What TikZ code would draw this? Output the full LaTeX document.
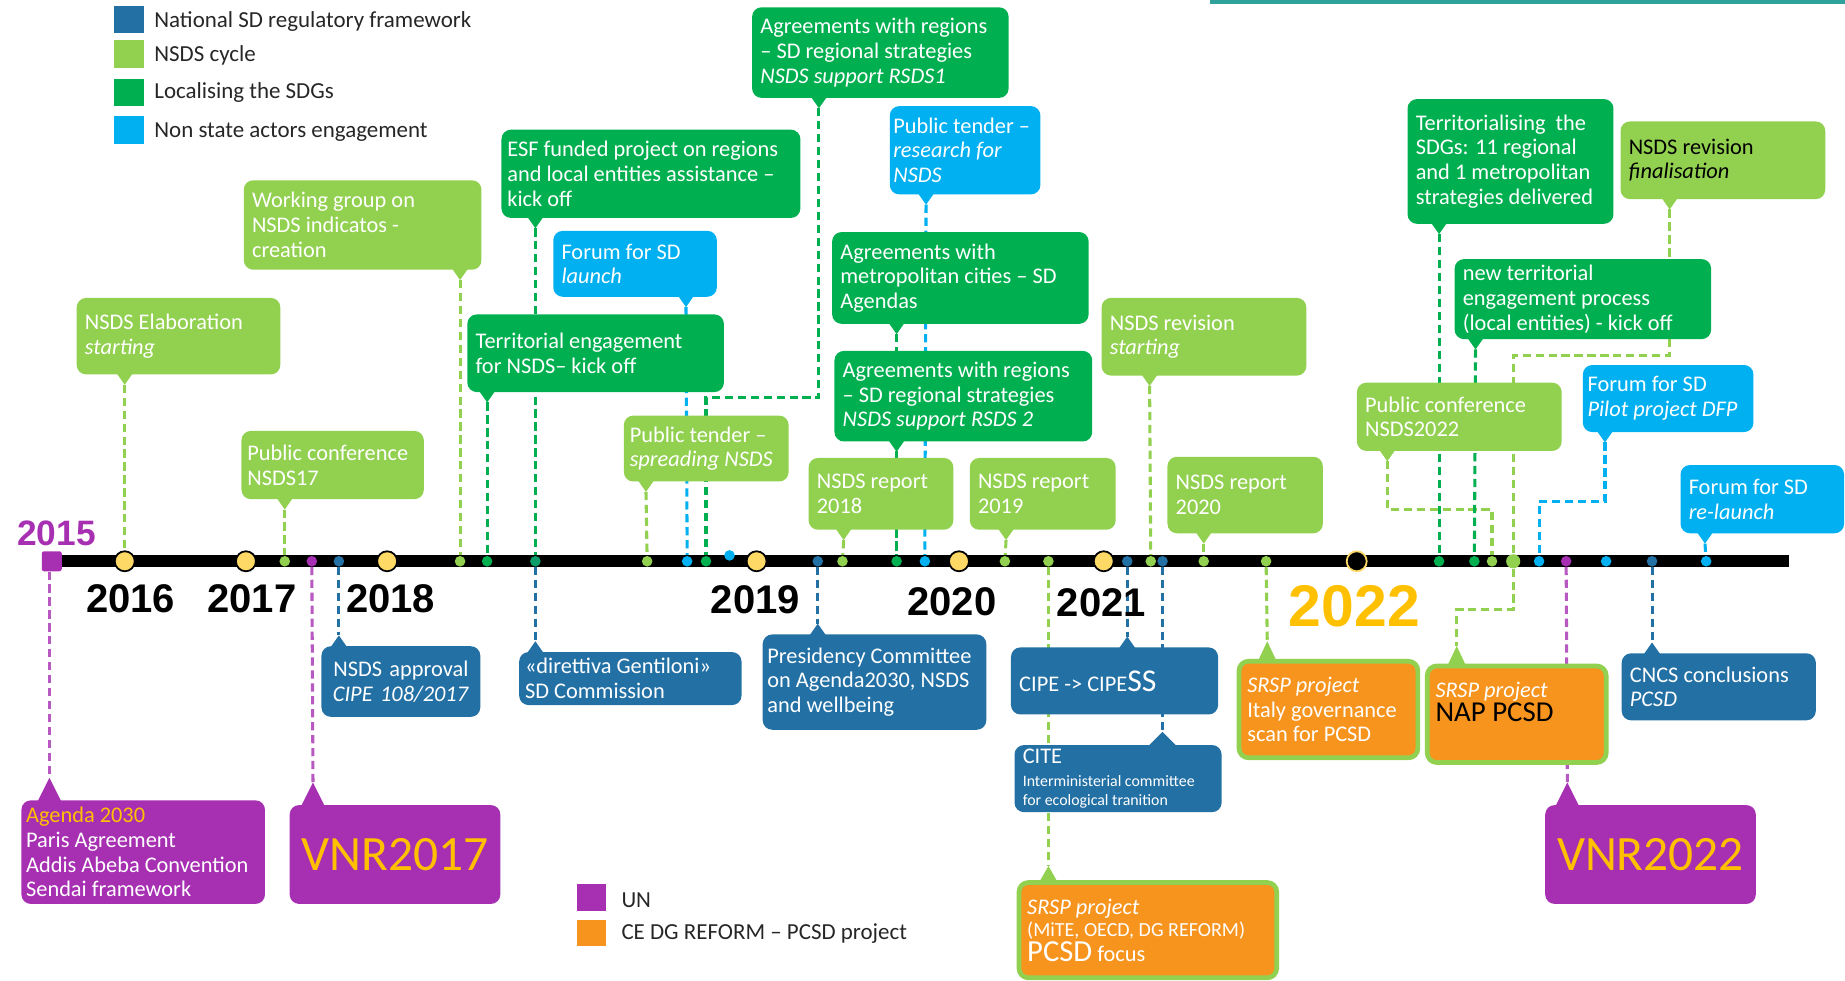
\documentclass[tikz,border=0pt]{standalone}
\usepackage{fontspec}
\setmainfont{Carlito}
\newfontfamily\yearfont{Liberation Sans}
\usetikzlibrary{backgrounds}

\definecolor{regblue}{HTML}{2370A5}
\definecolor{cyclegreen}{HTML}{92D050}
\definecolor{localgreen}{HTML}{00B050}
\definecolor{actorblue}{HTML}{00B0F0}
\definecolor{unpurple}{HTML}{A62FB2}
\definecolor{pcsdorange}{HTML}{F7941D}
\definecolor{gold}{HTML}{FFC000}
\definecolor{yearyellow}{HTML}{FFD966}
\definecolor{topteal}{HTML}{2FA39B}

\newcommand{\evtfont}{\fontsize{19}{21}\selectfont}

\begin{document}
\begin{tikzpicture}[x=1pt, y=-1pt,
    box/.style={rounded corners=8pt, anchor=north west, inner xsep=7pt, inner ysep=1pt, align=flush left, text=white, font=\evtfont},
    srsp/.style={box, fill=pcsdorange, draw=cyclegreen, line width=4pt},
    legend/.style={anchor=west, inner sep=0pt, font=\fontsize{19.5}{21}\selectfont, text=black!85},
    year/.style={inner sep=0pt, font=\yearfont\bfseries\fontsize{34}{34}\selectfont},
    dot/.style={circle, inner sep=0pt, minimum size=9pt},
    yeardot/.style={circle, inner sep=0pt, minimum size=17pt, fill=yearyellow, draw=black, line width=1.5pt},
    tieline/.style={line width=2.6pt, dash pattern=on 7pt off 4pt}
  ]
    \useasboundingbox (0,0) rectangle (1568,833);

    % top rule
    \fill[topteal] (1028,0) rectangle (1568,3);

    % legend
    \fill[regblue] (97,5) rectangle (122,28);
    \node[legend] (leg-reg) at (131,18) {National SD regulatory framework};
    \fill[cyclegreen] (97,34) rectangle (122,58);
    \node[legend] (leg-cycle) at (131,47) {NSDS cycle};
    \fill[localgreen] (97,67) rectangle (122,90);
    \node[legend] (leg-local) at (131,79) {Localising the SDGs};
    \fill[actorblue] (97,99) rectangle (122,122);
    \node[legend] (leg-actor) at (131,112) {Non state actors engagement};
    \fill[unpurple] (490,751) rectangle (515,774);
    \node[legend] (leg-un) at (528,765) {UN};
    \fill[pcsdorange] (490,782) rectangle (515,804);
    \node[legend] (leg-pcsd) at (528,793) {CE DG REFORM -- PCSD project};

    % timeline
    \draw[line width=10pt] (50,477) -- (1520,477);
    \node[fill=unpurple, minimum size=17pt, inner sep=0pt, rounded corners=2pt] (start) at (44,477) {};
    \node[yeardot] (y2016) at (106,477) {};
    \node[yeardot] (y2017) at (209,477) {};
    \node[yeardot] (y2018) at (329,477) {};
    \node[yeardot] (y2019) at (643,477) {};
    \node[yeardot] (y2020) at (815,477) {};
    \node[yeardot] (y2021) at (938,477) {};
    \node[yeardot, fill=black, draw=yearyellow] (y2022) at (1153,477) {};

    % year labels
    \node[year, text=unpurple, font=\yearfont\bfseries\fontsize{30}{30}\selectfont] (l2015) at (48,453) {2015};
    \node[year] (l2016) at (111,509) {2016};
    \node[year] (l2017) at (214,509) {2017};
    \node[year] (l2018) at (332,509) {2018};
    \node[year] (l2019) at (642,510) {2019};
    \node[year] (l2020) at (809,511) {2020};
    \node[year] (l2021) at (936,512) {2021};
    \node[year, text=gold, font=\yearfont\bfseries\fontsize{50}{50}\selectfont] (l2022) at (1151,515) {2022};

    % events on the line
    \node[dot, fill=cyclegreen] (conf17-dot) at (242,477) {};
    \node[dot, fill=unpurple] (vnr17-dot) at (265,477) {};
    \node[dot, fill=regblue] (approval-dot) at (288,477) {};
    \node[dot, fill=cyclegreen] (wgroup-dot) at (391,477) {};
    \node[dot, fill=localgreen] (terreng-dot) at (414,477) {};
    \node[dot, fill=localgreen!70!regblue] (esf-dot) at (455,477) {};
    \node[dot, fill=cyclegreen] (tenderspr-dot) at (550,477) {};
    \node[dot, fill=actorblue] (forumlaunch-dot) at (584,477) {};
    \node[dot, fill=localgreen] (rsdsone-dot) at (600,477) {};
    \node[dot, fill=actorblue] (nsa-dot) at (620,472) {};
    \node[dot, fill=regblue] (presidency-dot) at (695,477) {};
    \node[dot, fill=cyclegreen] (rep18-dot) at (716,477) {};
    \node[dot, fill=localgreen] (agree-dot) at (762,477) {};
    \node[dot, fill=actorblue] (tenderres-dot) at (786,477) {};
    \node[dot, fill=cyclegreen] (rep19-dot) at (854,477) {};
    \node[dot, fill=cyclegreen] (focus-dot) at (891,477) {};
    \node[dot, fill=regblue] (cipess-dot) at (958,477) {};
    \node[dot, fill=cyclegreen] (revstart-dot) at (978,477) {};
    \node[dot, fill=regblue] (cite-dot) at (988,477) {};
    \node[dot, fill=cyclegreen] (rep20-dot) at (1023,477) {};
    \node[dot, fill=cyclegreen] (scan-dot) at (1076,477) {};
    \node[dot, fill=localgreen] (sdgs-dot) at (1223,477) {};
    \node[dot, fill=localgreen] (newterr-dot) at (1253,477) {};
    \node[dot, fill=cyclegreen] (conf22-dot) at (1268,477) {};
    \node[dot, fill=cyclegreen, minimum size=12pt] (revfinal-dot) at (1286,477) {};
    \node[dot, fill=actorblue] (pilot-dot) at (1308,477) {};
    \node[dot, fill=unpurple] (vnr22-dot) at (1331,477) {};
    \node[dot, fill=actorblue] (nsatwo-dot) at (1365,477) {};
    \node[dot, fill=regblue] (cncs-dot) at (1404,477) {};
    \node[dot, fill=actorblue] (forumre-dot) at (1450,477) {};

    % boxes above the line
    \node[box, fill=cyclegreen, minimum height=65pt, text width=159pt] (elab) at (65,253) {NSDS Elaboration\\\textit{starting}};
    \node[box, fill=cyclegreen, minimum height=76pt, text width=188pt] (wgroup) at (207,153) {Working group on\\NSDS indicatos -\\creation};
    \node[box, fill=cyclegreen, minimum height=58pt, inner xsep=5pt, text width=145pt] (conf17) at (205,366) {Public conference\\NSDS17};
    \node[box, fill=localgreen, minimum height=75pt, inner xsep=5pt, text width=244pt] (esf) at (426,110) {ESF funded project on regions\\and local entities assistance --\\kick off};
    \node[box, fill=actorblue, minimum height=56pt, text width=125pt] (forumlaunch) at (470,196) {Forum for SD\\\textit{launch}};
    \node[box, fill=localgreen, minimum height=66pt, text width=204pt] (terreng) at (397,267) {Territorial engagement\\for NSDS-- kick off};
    \node[box, fill=localgreen, minimum height=77pt, text width=204pt] (rsdsone) at (639,6) {Agreements with regions\\-- SD regional strategies\\\textit{NSDS support RSDS1}};
    \node[box, fill=actorblue, minimum height=75pt, inner xsep=3pt, text width=122pt] (tenderres) at (756,90) {Public tender --\\\textit{research for}\\\textit{NSDS}};
    \node[box, fill=localgreen, minimum height=78pt, text width=204pt] (metro) at (707,197) {Agreements with\\metropolitan cities -- SD\\Agendas};
    \node[box, fill=localgreen, minimum height=77pt, text width=205pt] (rsdstwo) at (709,298) {Agreements with regions\\-- SD regional strategies\\\textit{NSDS support RSDS 2}};
    \node[box, fill=cyclegreen, minimum height=56pt, inner xsep=5pt, text width=130pt] (tenderspr) at (530,353) {Public tender --\\\textit{spreading NSDS}};
    \node[box, fill=cyclegreen, minimum height=61pt, text width=109pt] (rep18) at (687,389) {NSDS report\\2018};
    \node[box, fill=cyclegreen, minimum height=61pt, text width=110pt] (rep19) at (824,389) {NSDS report\\2019};
    \node[box, fill=cyclegreen, minimum height=66pt, text width=160pt] (revstart) at (936,253) {NSDS revision\\\textit{starting}};
    \node[box, fill=cyclegreen, minimum height=65pt, text width=118pt] (rep20) at (992,388) {NSDS report\\2020};
    \node[box, fill=localgreen, minimum height=106pt, text width=161pt] (sdgs) at (1196,84) {Territorialising~ the\\SDGs: 11 regional\\and 1 metropolitan\\strategies delivered};
    \node[box, fill=cyclegreen, text=black, minimum height=66pt, text width=160pt] (revfinal) at (1377,103) {NSDS revision\\\textit{finalisation}};
    \node[box, fill=localgreen, minimum height=68pt, text width=204pt] (newterr) at (1236,220) {new territorial\\engagement process\\(local entities) - kick off};
    \node[box, fill=cyclegreen, minimum height=58pt, text width=160pt] (conf22) at (1153,325) {Public conference\\NSDS2022};
    \node[box, fill=actorblue, minimum height=57pt, inner xsep=4pt, text width=137pt] (forumpilot) at (1345,310) {Forum for SD\\\textit{Pilot project DFP}};
    \node[box, fill=actorblue, minimum height=58pt, text width=125pt] (forumre) at (1428,395) {Forum for SD\\\textit{re-launch}};

    % boxes below the line
    \node[box, fill=unpurple, minimum height=88pt, inner xsep=4pt, text width=199pt] (agenda) at (18,680) {{\color{gold}Agenda 2030}\\Paris Agreement\\Addis Abeba Convention\\Sendai framework};
    \node[box, fill=unpurple, text=gold, align=center, minimum height=84pt, text width=165pt, font=\fontsize{42}{44}\selectfont] (vnrseventeen) at (246,684) {VNR2017};
    \node[box, fill=regblue, align=center, minimum height=60pt, text width=121pt] (approval) at (273,549) {NSDS approval\\\textit{CIPE 108/2017}};
    \node[box, fill=regblue, minimum height=45pt, inner xsep=5pt, text width=179pt] (gentiloni) at (441,554) {«direttiva Gentiloni»\\SD Commission};
    \node[box, fill=regblue, minimum height=81pt, inner xsep=4pt, text width=182pt] (presidency) at (648,539) {Presidency Committee\\on Agenda2030, NSDS\\and wellbeing};
    \node[box, fill=regblue, minimum height=57pt, text width=162pt] (cipess) at (859,550) {CIPE -> CIPE{\fontsize{27}{27}\selectfont SS}};
    \node[box, fill=regblue, minimum height=57pt, text width=162pt] (cite) at (862,633) {CITE\\[-2pt]{\fontsize{13.5}{16}\selectfont Interministerial committee}\\[-5pt]{\fontsize{13.5}{16}\selectfont for ecological tranition}};
    \node[srsp, minimum height=81pt, text width=205pt] (srspfocus) at (864,748) {\textit{SRSP project}\\[-2pt]{\fontsize{17}{19}\selectfont (MiTE, OECD, DG REFORM)}\\{\fontsize{26}{26}\selectfont PCSD} focus};
    \node[srsp, minimum height=82pt, text width=138pt] (srspscan) at (1051,560) {\textit{SRSP project}\\Italy governance\\scan for PCSD};
    \node[srsp, minimum height=82pt, text width=138pt] (srspnap) at (1211,564) {\textit{SRSP project}\\{\color{black}\fontsize{24.5}{26}\selectfont NAP PCSD}\\\mbox{}};
    \node[box, fill=unpurple, text=gold, align=center, minimum height=84pt, text width=165pt, font=\fontsize{42}{44}\selectfont] (vnrtwentytwo) at (1313,684) {VNR2022};
    \node[box, fill=regblue, minimum height=57pt, text width=151pt] (cncs) at (1378,555) {CNCS conclusions\\\textit{PCSD}};

    % pointers
    \fill[cyclegreen] (99,317) -- (106,327) coordinate (elab-tip) -- (113,317) -- cycle;
    \fill[cyclegreen] (384,228) -- (391,238) coordinate (wgroup-tip) -- (398,228) -- cycle;
    \fill[cyclegreen] (235,423) -- (242,433) coordinate (conf17-tip) -- (249,423) -- cycle;
    \fill[localgreen] (448,184) -- (455,194) coordinate (esf-tip) -- (462,184) -- cycle;
    \fill[actorblue] (576,251) -- (583,261) coordinate (forumlaunch-tip) -- (590,251) -- cycle;
    \fill[localgreen] (407,332) -- (414,342) coordinate (terreng-tip) -- (421,332) -- cycle;
    \fill[localgreen] (689,82) -- (696,92) coordinate (rsdsone-tip) -- (703,82) -- cycle;
    \fill[actorblue] (780,164) -- (787,174) coordinate (tenderres-tip) -- (794,164) -- cycle;
    \fill[localgreen] (755,274) -- (762,284) coordinate (metro-tip) -- (769,274) -- cycle;
    \fill[localgreen] (755,374) -- (762,384) coordinate (rsdstwo-tip) -- (769,374) -- cycle;
    \fill[cyclegreen] (542,408) -- (549,418) coordinate (tenderspr-tip) -- (556,408) -- cycle;
    \fill[cyclegreen] (710,449) -- (717,459) coordinate (rep18-tip) -- (724,449) -- cycle;
    \fill[cyclegreen] (848,449) -- (855,459) coordinate (rep19-tip) -- (862,449) -- cycle;
    \fill[cyclegreen] (970,318) -- (977,328) coordinate (revstart-tip) -- (984,318) -- cycle;
    \fill[cyclegreen] (1016,452) -- (1023,462) coordinate (rep20-tip) -- (1030,452) -- cycle;
    \fill[localgreen] (1216,189) -- (1223,199) coordinate (sdgs-tip) -- (1230,189) -- cycle;
    \fill[cyclegreen] (1412,168) -- (1419,178) coordinate (revfinal-tip) -- (1426,168) -- cycle;
    \fill[localgreen] (1247,287) -- (1254,297) coordinate (newterr-tip) -- (1261,287) -- cycle;
    \fill[cyclegreen] (1172,382) -- (1179,392) coordinate (conf22-tip) -- (1186,382) -- cycle;
    \fill[actorblue] (1357,366) -- (1364,376) coordinate (forumpilot-tip) -- (1371,366) -- cycle;
    \fill[actorblue] (1442,452) -- (1449,462) coordinate (forumre-tip) -- (1456,452) -- cycle;
    \fill[unpurple] (32,681) -- (42,661) coordinate (agenda-tip) -- (52,681) -- cycle;
    \fill[unpurple] (256,685) -- (266,665) coordinate (vnrseventeen-tip) -- (276,685) -- cycle;
    \fill[regblue] (281,550) -- (288,540) coordinate (approval-tip) -- (295,550) -- cycle;
    \fill[regblue] (448,555) -- (455,545) coordinate (gentiloni-tip) -- (462,555) -- cycle;
    \fill[regblue] (688,540) -- (695,530) coordinate (presidency-tip) -- (702,540) -- cycle;
    \fill[regblue] (951,551) -- (958,541) coordinate (cipess-tip) -- (965,551) -- cycle;
    \fill[regblue] (976,634) -- (988,622) coordinate (cite-tip) -- (1000,634) -- cycle;
    \fill[cyclegreen] (883,750) -- (891,736) coordinate (srspfocus-tip) -- (899,750) -- cycle;
    \fill[cyclegreen] (1069,562) -- (1077,545) coordinate (srspscan-tip) -- (1085,562) -- cycle;
    \fill[cyclegreen] (1230,566) -- (1238,549) coordinate (srspnap-tip) -- (1246,566) -- cycle;
    \fill[unpurple] (1322,685) -- (1332,665) coordinate (vnrtwentytwo-tip) -- (1342,685) -- cycle;
    \fill[regblue] (1397,556) -- (1404,546) coordinate (cncs-tip) -- (1411,556) -- cycle;

    % connectors
    \begin{scope}[on background layer]
        \draw[tieline, cyclegreen] (elab-tip) -- (y2016);
        \draw[tieline, cyclegreen] (wgroup-tip) -- (wgroup-dot);
        \draw[tieline, cyclegreen] (conf17-tip) -- (conf17-dot);
        \draw[tieline, cyclegreen] (tenderspr-tip) -- (tenderspr-dot);
        \draw[tieline, cyclegreen] (rep18-tip) -- (rep18-dot);
        \draw[tieline, cyclegreen] (rep19-tip) -- (rep19-dot);
        \draw[tieline, cyclegreen] (revstart-tip) -- (revstart-dot);
        \draw[tieline, cyclegreen] (rep20-tip) -- (rep20-dot);
        \draw[tieline, cyclegreen] (revfinal-tip) -- ++(0,124) -| (revfinal-dot);
        \draw[tieline, cyclegreen] (conf22-tip) -- ++(0,41) -| (conf22-dot);
        \draw[tieline, cyclegreen] (focus-dot) -- (srspfocus-tip);
        \draw[tieline, cyclegreen] (scan-dot) -- (srspscan-tip);
        \draw[tieline, cyclegreen] (revfinal-dot) -- ++(0,41) -| (srspnap-tip);

        \draw[tieline, localgreen] (esf-tip) -- (esf-dot);
        \draw[tieline, localgreen] (terreng-tip) -- (terreng-dot);
        \draw[tieline, localgreen] (rsdsone-tip) -- ++(0,246) -| (rsdsone-dot);
        \draw[tieline, localgreen] (metro-tip) -- (agree-dot);
        \draw[tieline, localgreen] (rsdstwo-tip) -- (agree-dot);
        \draw[tieline, localgreen] (sdgs-tip) -- (sdgs-dot);
        \draw[tieline, localgreen] (newterr-tip) -- (newterr-dot);

        \draw[tieline, actorblue] (forumlaunch-tip) -- (forumlaunch-dot);
        \draw[tieline, actorblue] (tenderres-tip) -- (tenderres-dot);
        \draw[tieline, actorblue] (forumpilot-tip) -- ++(0,50) -| (pilot-dot);
        \draw[tieline, actorblue] (forumre-tip) -- (forumre-dot);

        \draw[tieline, regblue] (approval-dot) -- (approval-tip);
        \draw[tieline, regblue] (esf-dot) -- (gentiloni-tip);
        \draw[tieline, regblue] (presidency-dot) -- (presidency-tip);
        \draw[tieline, regblue] (cipess-dot) -- (cipess-tip);
        \draw[tieline, regblue] (cite-dot) -- (cite-tip);
        \draw[tieline, regblue] (cncs-dot) -- (cncs-tip);

        \draw[tieline, unpurple!80] (start.south -| agenda-tip) -- (agenda-tip);
        \draw[tieline, unpurple!80] (vnr17-dot) -- (vnrseventeen-tip);
        \draw[tieline, unpurple!80] (vnr22-dot) -- (vnrtwentytwo-tip);
    \end{scope}
\end{tikzpicture}
\end{document}
